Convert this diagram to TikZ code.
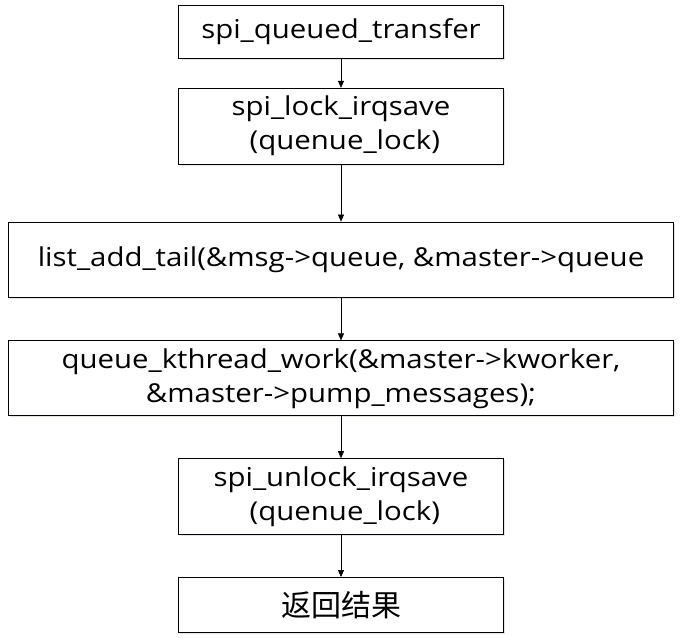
\documentclass[tikz,border=0pt]{standalone}
\usepackage{fontspec}
\setmainfont{Open Sans}[FakeStretch=1.13]
\newfontfamily\cjk{Noto Sans CJK SC}
\usetikzlibrary{positioning, arrows.meta, shadows}

\begin{document}
\begin{tikzpicture}[x=1pt, y=1pt,
    font=\fontsize{26}{34}\selectfont,
    flowbox/.style={draw, line width=0.8pt, fill=white, align=center,
        minimum width=325pt, minimum height=53pt, inner sep=1pt,
        drop shadow={opacity=0.3, shadow xshift=1pt, shadow yshift=-1.5pt, fill=blue!15!gray!60}},
    tallbox/.style={flowbox, minimum height=76pt},
    widebox/.style={flowbox, minimum width=665pt, minimum height=75pt},
    flow/.style={-{Triangle[length=7pt, width=6pt]}, line width=0.6pt}
    ]
    \useasboundingbox (0,0) rectangle (697,-638);

    \node[flowbox, anchor=north] (transfer) at (341,-5) {spi\_queued\_transfer};
    \node[tallbox] (lock) [below=29pt of transfer] {spi\_lock\_irqsave\\ \mbox{}\ (quenue\_lock)};
    \node[widebox] (addtail) [below=57pt of lock] {list\_add\_tail(\&msg->queue, \&master->queue};
    \node[widebox] (kwork) [below=43pt of addtail] {queue\_kthread\_work(\&master->kworker,\\ \&master->pump\_messages);};
    \node[tallbox] (unlock) [below=42pt of kwork] {spi\_unlock\_irqsave\\ \mbox{}\ (quenue\_lock)};
    \node[flowbox, minimum height=55pt] (result) [below=42pt of unlock] {\cjk\fontsize{30}{34}\selectfont 返回结果};

    \draw[flow] (transfer) -- (lock);
    \draw[flow] (lock) -- (addtail);
    \draw[flow] (addtail) -- (kwork);
    \draw[flow] (kwork) -- (unlock);
    \draw[flow] (unlock) -- (result);
\end{tikzpicture}
\end{document}
